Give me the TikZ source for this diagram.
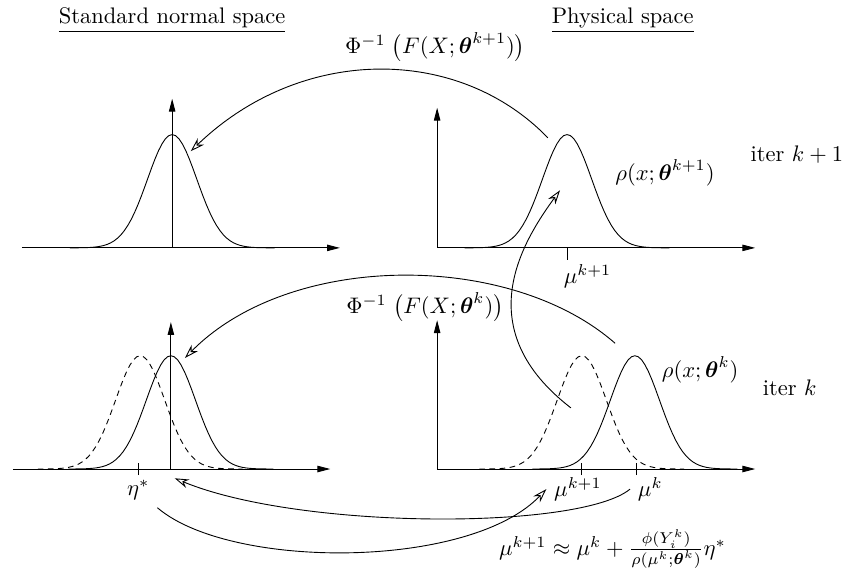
\documentclass[tikz,border=0pt]{standalone}
\usepackage{amsmath}
\usetikzlibrary{arrows.meta}
\begin{document}
\begin{tikzpicture}[
  axis/.style={-{Triangle[length=2mm,width=1mm]}},
  link/.style={-{Stealth[open,length=2.2mm,width=1.4mm]}},
  shifted/.style={dash pattern=on 2.5pt off 2pt},
  declare function={gauss(\x)=1.77*exp(-0.5*(\x/0.385)^2);}
]
\useasboundingbox (0,0) rectangle (13.406,8.953);
% titles
\node (sns) at (2.69,8.64) {\underline{Standard normal space}};
\node (phys) at (9.73,8.64) {\underline{Physical space}};

% iter k+1, standard normal space
\draw[axis] (0.34,5.08) -- (5.31,5.08);
\draw[axis] (2.69,5.08) -- (2.69,7.41);
\draw plot[domain=-1.6:1.6,samples=61] ({2.69+\x},{5.08+gauss(\x)});

% iter k+1, physical space
\draw[axis] (6.83,5.08) -- (11.80,5.08);
\draw[axis] (6.83,5.08) -- (6.83,7.27);
\draw plot[domain=-1.6:1.6,samples=61] ({8.86+\x},{5.08+gauss(\x)});
\draw (8.86,5.08) -- (8.86,4.89);
\node (mutop) at (9.18,4.64) {$\mu^{k+1}$};
\node (rhokk) at (10.39,6.25) {$\rho(x;\boldsymbol{\theta}^{k+1})$};
\node (iterkk) at (12.45,6.53) {iter $k+1$};

% iter k, standard normal space
\draw[axis] (0.20,1.625) -- (5.16,1.625);
\draw[axis] (2.67,1.625) -- (2.67,3.92);
\draw plot[domain=-1.6:1.6,samples=61] ({2.67+\x},{1.625+gauss(\x)});
\draw[shifted] plot[domain=-1.6:1.6,samples=61] ({2.19+\x},{1.625+gauss(\x)});
\draw (2.16,1.53) -- (2.16,1.72);
\node (etastar) at (2.16,1.30) {$\eta^*$};

% iter k, physical space
\draw[axis] (6.83,1.625) -- (11.80,1.625);
\draw[axis] (6.83,1.625) -- (6.83,3.95);
\draw plot[domain=-1.6:1.6,samples=61] ({9.92+\x},{1.625+gauss(\x)});
\draw[shifted] plot[domain=-1.6:1.6,samples=61] ({9.09+\x},{1.625+gauss(\x)});
\draw (9.08,1.53) -- (9.08,1.72);
\draw (9.95,1.53) -- (9.95,1.72);
\node (mukk) at (9.03,1.31) {$\mu^{k+1}$};
\node (muk) at (10.16,1.31) {$\mu^k$};
\node (rhok) at (10.94,3.17) {$\rho(x;\boldsymbol{\theta}^{k})$};
\node (iterk) at (12.34,2.89) {iter $k$};

% maps and update
\node (mapkk) at (6.80,8.22) {$\Phi^{-1}\;\bigl(F(X;\boldsymbol{\theta}^{k+1})\bigr)$};
\node (mapk) at (6.64,4.16) {$\Phi^{-1}\;\bigl(F(X;\boldsymbol{\theta}^{k})\bigr)$};
\node (update) at (9.57,0.38) {$\mu^{k+1}\approx\mu^k+\frac{\phi(Y_i^k)}{\rho(\mu^k;\boldsymbol{\theta}^k)}\eta^*$};

\coordinate (physkk) at (8.56,6.80);
\coordinate (stdkk) at (2.98,6.59);
\coordinate (physk) at (9.61,3.59);
\coordinate (stdk) at (2.89,3.36);
\coordinate (origin) at (2.73,1.48);
\coordinate (dashk) at (8.92,2.58);
\coordinate (peakkk) at (8.75,5.98);

\draw[link] (physkk) .. controls (7.16,8.25) and (4.70,8.25) .. (stdkk);
\draw[link] (physk) .. controls (7.97,5.03) and (4.53,5.03) .. (stdk);
\draw[link] (muk.west) .. controls (9.06,0.67) and (4.69,0.67) .. (origin);
\draw[link] (etastar.south east) .. controls (3.59,0.05) and (7.34,0.05) .. (mukk.west);
\draw[link] (dashk) .. controls (7.34,3.80) and (8.125,5.125) .. (peakkk);
\end{tikzpicture}
\end{document}
